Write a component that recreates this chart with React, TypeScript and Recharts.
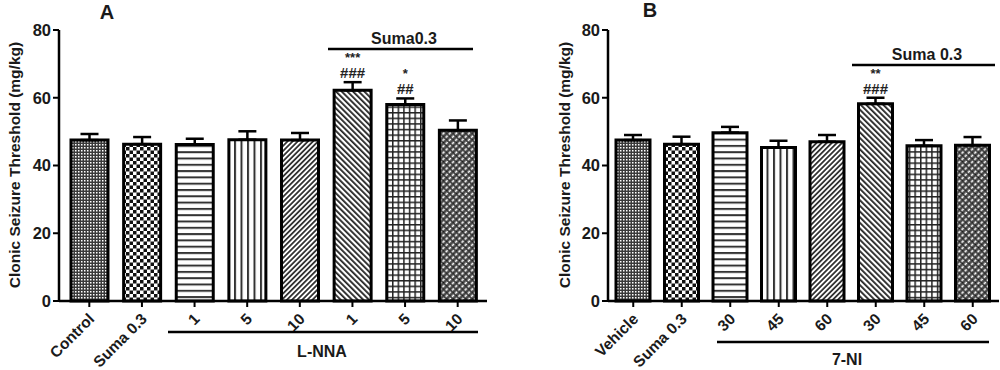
import React from 'react';
import { BarChart, Bar, XAxis, YAxis, Cell, ErrorBar, LabelList } from 'recharts';

const FONT = '"Liberation Sans", Arial, Helvetica, sans-serif';

// Panel A
const labelsA = ['Control', 'Suma 0.3', '1', '5', '10', '1', '5', '10'];
const meansA = [47.5, 46.3, 46.2, 47.6, 47.5, 62.2, 58.0, 50.4];
const semA = [1.8, 2.1, 1.7, 2.5, 2.1, 2.4, 1.8, 2.9];
const starsA = ['', '', '', '', '', '***', '*', ''];
const hashesA = ['', '', '', '', '', '###', '##', ''];

// Panel B
const labelsB = ['Vehicle', 'Suma 0.3', '30', '45', '60', '30', '45', '60'];
const meansB = [47.5, 46.3, 49.7, 45.3, 47.0, 58.2, 45.8, 46.0];
const semB = [1.5, 2.2, 1.7, 2.0, 2.0, 1.8, 1.7, 2.4];
const starsB = ['', '', '', '', '', '**', '', ''];
const hashesB = ['', '', '', '', '', '###', '', ''];

const yTicks = [0, 20, 40, 60, 80];

const buildRows = (labels: string[], means: number[], sem: number[]) =>
  labels.map((l, i) => ({ id: `g${i}`, label: l, mean: means[i], err: [0, sem[i]] }));

const Patterns = ({ p }: { p: string }) => (
  <defs>
    <pattern id={`${p}0`} width={3} height={3} patternUnits="userSpaceOnUse">
      <rect width={3} height={3} fill="#3a3a3a" />
      <rect width={1.5} height={1.5} fill="#fff" />
    </pattern>
    <pattern id={`${p}1`} width={7} height={7} patternUnits="userSpaceOnUse">
      <rect width={7} height={7} fill="#fff" />
      <rect width={3.5} height={3.5} fill="#111" />
      <rect x={3.5} y={3.5} width={3.5} height={3.5} fill="#111" />
    </pattern>
    <pattern id={`${p}2`} width={6} height={6.3} patternUnits="userSpaceOnUse">
      <rect width={6} height={6.3} fill="#fff" />
      <rect y={0} width={6} height={2} fill="#333" />
    </pattern>
    <pattern id={`${p}3`} width={6.5} height={6} patternUnits="userSpaceOnUse">
      <rect width={6.5} height={6} fill="#fff" />
      <rect x={0} width={2} height={6} fill="#333" />
    </pattern>
    <pattern id={`${p}4`} width={3.6} height={3.6} patternUnits="userSpaceOnUse" patternTransform="rotate(45)">
      <rect width={3.6} height={3.6} fill="#fff" />
      <rect width={1.8} height={3.6} fill="#333" />
    </pattern>
    <pattern id={`${p}5`} width={4} height={4} patternUnits="userSpaceOnUse" patternTransform="rotate(-45)">
      <rect width={4} height={4} fill="#fff" />
      <rect width={1.8} height={4} fill="#222" />
    </pattern>
    <pattern id={`${p}6`} width={5.6} height={5.6} patternUnits="userSpaceOnUse">
      <rect width={5.6} height={5.6} fill="#fff" />
      <rect width={5.6} height={1.5} fill="#222" />
      <rect width={1.5} height={5.6} fill="#222" />
    </pattern>
    <pattern id={`${p}7`} width={4.5} height={4.5} patternUnits="userSpaceOnUse" patternTransform="rotate(45)">
      <rect width={4.5} height={4.5} fill="#4a4a4a" />
      <rect x={2.2} y={0} width={1.6} height={2.6} fill="#fff" />
      <rect x={0} y={2.6} width={1.2} height={1.2} fill="#111" />
    </pattern>
  </defs>
);

const SlantTick = (props: any) => {
  const { x, y, payload, labels } = props;
  const idx = props.index ?? payload?.index ?? 0;
  return (
    <text
      transform={`translate(${x + 6},${y + 11}) rotate(-45)`}
      textAnchor="end"
      fontFamily={FONT}
      fontWeight="bold"
      fontSize={15.5}
      fill="#1a1a1a"
    >
      {labels[idx]}
    </text>
  );
};

const annoContent = (sem: number[], stars: string[], hashes: string[]) => (props: any) => {
  const vb = props.viewBox ?? props;
  const idx = props.index;
  if (idx == null || (!stars[idx] && !hashes[idx])) return null;
  const perUnit = vb.height / props.value;
  const errTop = vb.y - sem[idx] * perUnit;
  const cx = vb.x + vb.width / 2;
  return (
    <g fontFamily={FONT} fontWeight="bold" fill="#222" textAnchor="middle">
      <text x={cx} y={errTop - 4} fontSize={15}>{hashes[idx]}</text>
      <text x={cx} y={errTop - 20} fontSize={13}>{stars[idx]}</text>
    </g>
  );
};

const yLabel = (props: any) => {
  const vb = props.viewBox;
  const x = vb.x + 14;
  const y = 165;
  return (
    <text
      x={x}
      y={y}
      transform={`rotate(-90 ${x} ${y})`}
      textAnchor="middle"
      dominantBaseline="central"
      fontFamily={FONT}
      fontWeight="bold"
      fontSize={15.5}
      fill="#1a1a1a"
    >
      Clonic Seizure Threshold (mg/kg)
    </text>
  );
};

type PanelProps = {
  p: string;
  labels: string[];
  means: number[];
  sem: number[];
  stars: string[];
  hashes: string[];
  width: number;
  yAxisWidth: number;
  marginLeft: number;
  marginRight: number;
  barSize: number;
  padLeft: number;
  padRight: number;
};

const Panel = (cfg: PanelProps) => {
  const rows = buildRows(cfg.labels, cfg.means, cfg.sem);
  return (
    <BarChart
      width={cfg.width}
      height={370}
      data={rows}
      margin={{ top: 30, right: cfg.marginRight, left: cfg.marginLeft, bottom: 0 }}
      barSize={cfg.barSize}
    >
      <Patterns p={cfg.p} />
      <XAxis
        dataKey="id"
        height={69}
        interval={0}
        axisLine={{ stroke: '#000', strokeWidth: 2.5 }}
        tickLine={{ stroke: '#000', strokeWidth: 2 }}
        tickSize={6}
        padding={{ left: cfg.padLeft, right: cfg.padRight }}
        tick={(t: any) => <SlantTick {...t} labels={cfg.labels} />}
      />
      <YAxis
        width={cfg.yAxisWidth}
        domain={[0, 80]}
        ticks={yTicks}
        interval={0}
        axisLine={{ stroke: '#000', strokeWidth: 2.5 }}
        tickLine={{ stroke: '#000', strokeWidth: 2 }}
        tickSize={6}
        tickMargin={2}
        tick={{ fontFamily: FONT, fontWeight: 'bold', fontSize: 16.5, fill: '#1a1a1a' }}
        label={{ content: yLabel }}
      />
      <Bar dataKey="mean" stroke="#000" strokeWidth={3} isAnimationActive={false}>
        {rows.map((r, i) => (
          <Cell key={r.id} fill={`url(#${cfg.p}${i})`} />
        ))}
        <ErrorBar dataKey="err" width={9} stroke="#000" strokeWidth={2.5} direction="y" isAnimationActive={false} />
        <LabelList dataKey="mean" content={annoContent(cfg.sem, cfg.stars, cfg.hashes)} />
      </Bar>
    </BarChart>
  );
};

const txt = { fontFamily: FONT, fontWeight: 'bold' as const, fill: '#1a1a1a' };

export default function App() {
  return (
    <div style={{ position: 'absolute', left: 0, top: 0, width: 1000, height: 370, background: '#fff' }}>
      <div style={{ position: 'absolute', left: 0, top: 0 }}>
        <Panel
          p="pa"
          labels={labelsA}
          means={meansA}
          sem={semA}
          stars={starsA}
          hashes={hashesA}
          width={490}
          yAxisWidth={59}
          marginLeft={0}
          marginRight={3}
          barSize={37}
          padLeft={4}
          padRight={3}
        />
      </div>
      <div style={{ position: 'absolute', left: 500, top: 0 }}>
        <Panel
          p="pb"
          labels={labelsB}
          means={meansB}
          sem={semB}
          stars={starsB}
          hashes={hashesB}
          width={500}
          yAxisWidth={58}
          marginLeft={50}
          marginRight={1}
          barSize={34}
          padLeft={1}
          padRight={2}
        />
      </div>
      <svg width={1000} height={370} style={{ position: 'absolute', left: 0, top: 0, pointerEvents: 'none' }}>
        <text x={107} y={12} textAnchor="middle" dominantBaseline="central" fontSize={20} {...txt}>A</text>
        <text x={650} y={10} textAnchor="middle" dominantBaseline="central" fontSize={20} {...txt}>B</text>

        <text x={404} y={38} textAnchor="middle" dominantBaseline="central" fontSize={16} {...txt}>Suma0.3</text>
        <line x1={328} y1={49} x2={473} y2={49} stroke="#000" strokeWidth={2.5} />
        <line x1={168} y1={332} x2={478} y2={332} stroke="#000" strokeWidth={2.5} />
        <text x={322} y={351} textAnchor="middle" dominantBaseline="central" fontSize={16} {...txt}>L-NNA</text>

        <text x={927} y={54} textAnchor="middle" dominantBaseline="central" fontSize={16} {...txt}>Suma 0.3</text>
        <line x1={852} y1={65} x2={995} y2={65} stroke="#000" strokeWidth={2.5} />
        <line x1={717} y1={342} x2={989} y2={342} stroke="#000" strokeWidth={2.5} />
        <text x={847} y={359} textAnchor="middle" dominantBaseline="central" fontSize={16} {...txt}>7-NI</text>
      </svg>
    </div>
  );
}
